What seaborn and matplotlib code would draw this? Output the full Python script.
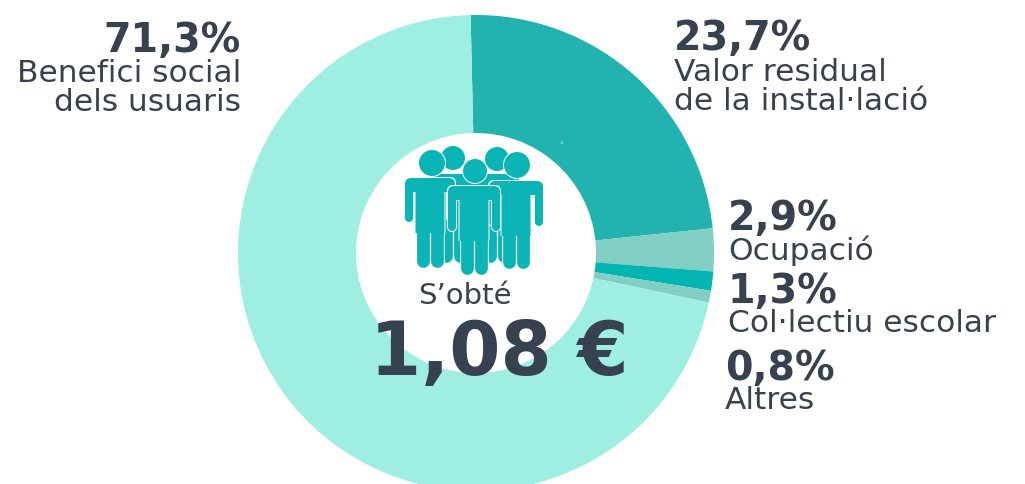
import matplotlib
matplotlib.use("Agg")
import matplotlib.pyplot as plt
import seaborn as sns
from matplotlib.patches import Circle, FancyBboxPatch

# Data, clockwise from the top
categories = ['Valor residual\nde la instal·lació', 'Ocupació', 'Col·lectiu escolar', 'Altres', 'Benefici social\ndels usuaris']
values = [23.7, 2.9, 1.3, 0.8, 71.3]
colors = ['#22b3af', '#80cec4', '#02b5b1', '#80cec4', '#9eeee1']
subtitle = "S’obté"
total = '1,08 €'

W, H = 1025, 484
DARK = '#36424f'
ICON = '#0bb5b5'

sns.set_theme(style='white')
plt.rcParams['font.family'] = ['DejaVu Sans']


def py(y):
    # picture rows run downwards, the axes run upwards
    return H - y


def draw_person(ax, cx, head_x, head_y, head_r, top, half_w, hand_y, foot_y, z):
    for edge, color in [(2, 'white'), (0, ICON)]:
        e = edge * 0.72
        zz = z + (0.5 if edge == 0 else 0)
        ax.add_patch(Circle((head_x, py(head_y)), head_r + edge / 2, fc=color, ec='none', zorder=zz))
        # torso
        ax.add_patch(FancyBboxPatch((cx - 14.5 - edge / 2, py(top + 55)), 29 + edge, 50,
                                    boxstyle='round,pad=0,rounding_size=0', fc=color, ec='none', zorder=zz))
        # shoulders
        ax.add_patch(FancyBboxPatch((cx - half_w - edge / 2, py(top + 14) - edge / 2), 2 * half_w + edge, 14 + edge,
                                    boxstyle='round,pad=0,rounding_size=6', fc=color, ec='none', zorder=zz))
        for side in (-1, 1):
            x = cx + side * (half_w - 4)
            ax.plot([x, x], [py(top + 8), py(hand_y - 4)], color=color, lw=5.8 + e, solid_capstyle='round', zorder=zz)
            x = cx + side * 7.2
            ax.plot([x, x], [py(top + 45), py(foot_y - 6)], color=color, lw=9.2 + e, solid_capstyle='round', zorder=zz)


fig = plt.figure(figsize=(W / 100, H / 100), dpi=100)
ax = fig.add_axes([0, 0, 1, 1])

ax.pie(values, colors=colors, startangle=91.3, counterclock=False, center=(476, py(253)), radius=238,
       wedgeprops={'width': 118, 'linewidth': 0})
ax.set_xlim(0, W)
ax.set_ylim(0, H)
ax.set_aspect('equal')
ax.axis('off')

# people icon, back row first
draw_person(ax, 453, 453, 158, 12, 174, 22, 215, 262, 3)
draw_person(ax, 497, 497, 159, 12, 174, 22, 215, 262, 3)
draw_person(ax, 430, 432, 163, 13, 178, 25, 222, 267, 4)
draw_person(ax, 516, 517, 165, 13, 181, 27, 226, 268, 4)
draw_person(ax, 474, 475, 171, 12, 186, 26, 231, 274, 5)

# value and name labels
label_pos = [(674, 39, 'left'), (728, 219, 'left'), (728, 292, 'left'), (725, 369, 'left'), (241, 41, 'right')]
name_gap = [19, 17, 17, 17, 18]
for name, val, gap, (x, y, ha) in zip(categories, values, name_gap, label_pos):
    ax.text(x, py(y), f'{val:.1f}%'.replace('.', ','), fontsize=28.5, fontweight='bold', color=DARK,
            ha=ha, va='center', zorder=6)
    ax.text(x, py(y + gap), name, fontsize=22.5, color=DARK, ha=ha, va='top', linespacing=1.0, zorder=6)

ax.text(465, py(296), subtitle, fontsize=21, color=DARK, ha='center', va='center', zorder=6)
ax.text(499, py(355), total, fontsize=53, fontweight='bold', color=DARK, ha='center', va='center', zorder=6)
ax.text(561, py(142), 'a', fontsize=4, color='#b5cfcf', ha='center', va='center', zorder=6)

fig.savefig('out.png', dpi=100)
